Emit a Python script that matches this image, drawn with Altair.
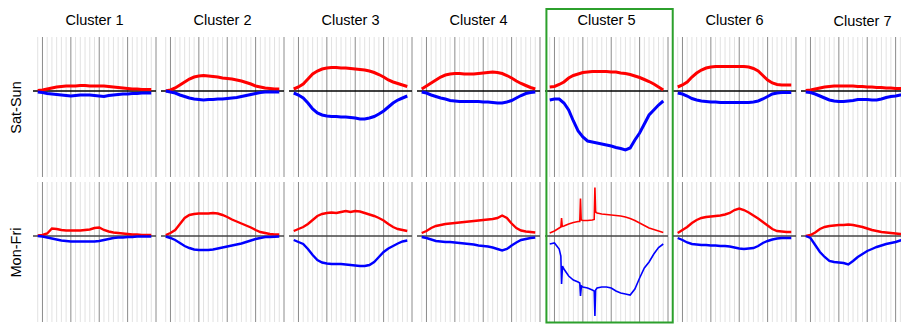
import altair as alt
import pandas as pd

FONT = "Liberation Sans"
HOURS = list(range(-1, 24))
GRID_HOURS = list(range(-1, 25))
CLUSTERS = ["Cluster 1", "Cluster 2", "Cluster 3", "Cluster 4", "Cluster 5", "Cluster 6", "Cluster 7"]
DAY_TYPES = ["Sat-Sun", "Mon-Fri"]

# ---- Sat-Sun (values at HOURS) ----
ss_red_1 = [0.5, 1, 2, 3, 4, 4.5, 5, 5, 5, 5.5, 5.5, 5, 5, 5, 5, 4.5, 4, 3.5, 3, 2.5, 2, 2, 1.5, 1.5, 1.5]
ss_blue_1 = [-1, -1.5, -2.5, -3, -3.5, -4, -4.5, -5, -4.5, -4, -4, -4, -4.5, -5, -5.5, -4.5, -4, -3.5, -3, -3, -2.5, -2.5, -2, -2, -2]
ss_red_2 = [0, 1, 3, 6, 9, 12, 14, 15, 15.5, 15, 14.5, 14, 13, 12.5, 12, 11, 10, 8.5, 7, 5, 4, 3, 2.5, 2, 2]
ss_blue_2 = [0, -1, -2, -4, -5.5, -7, -8, -8.5, -9, -8.5, -8.5, -8, -8, -7.5, -7, -6.5, -5.5, -4.5, -3.5, -2.5, -1.5, -1, -1, -1, -1]
ss_red_3 = [2, 4, 7, 12, 17, 20, 22, 23, 23.5, 23.5, 23, 23, 22.5, 22, 21.5, 21, 20, 18.5, 16.5, 14, 11, 9, 7.5, 6, 4.5]
ss_blue_3 = [-2, -4, -7, -12, -18, -22, -24, -25, -25.5, -25.5, -26, -26, -26.5, -27, -28, -28, -27, -25.5, -23, -20, -16, -12, -9, -7, -5]
ss_red_4 = [2, 5, 8, 11, 14, 16, 17, 17.5, 17.5, 17, 17, 17, 17.5, 18, 18.5, 19, 18.5, 17.5, 15.5, 13, 10, 7.5, 5.5, 3.5, 2]
ss_blue_4 = [-1, -2, -4, -5.5, -7, -8, -9.5, -10, -10.5, -10.5, -10.5, -10.5, -10.5, -11, -11, -11.5, -12, -12, -11, -9.5, -7, -4.5, -2.5, -1.5, -1]
ss_red_5 = [4, 4.5, 6.5, 9, 13, 15.5, 17, 18.5, 19, 19.5, 19.5, 19.5, 19.5, 19, 19, 18, 17.5, 16.5, 15, 13.5, 11.5, 9.5, 7, 4, 1]
ss_blue_5 = [-9, -8, -8, -12, -19, -30, -40, -46, -50, -51, -52, -53, -54, -55, -56.5, -57.5, -59, -57, -49, -42, -33, -24, -19, -14, -10]
ss_red_6 = [4, 6, 9, 14, 18, 21, 23, 24, 24.5, 24.5, 24.5, 24.5, 24.5, 24.5, 24.5, 24, 22.5, 20, 15.5, 11, 8, 6.5, 6, 6, 6]
ss_blue_6 = [-2, -3, -5, -7.5, -9, -10, -10.5, -11, -11, -11.5, -11.5, -11.5, -11.5, -11.5, -11.5, -11.5, -11, -10, -8, -5.5, -3, -2, -1.5, -1.5, -1.5]
ss_red_7 = [0.5, 1, 2, 3, 4, 4.5, 5, 5, 5, 5, 5, 4.5, 4.5, 4, 4, 3.5, 3.5, 3, 3, 2.5, 2.5, 2, 2, 2, 2]
ss_blue_7 = [-1, -1.5, -3, -5, -7, -9, -10, -10.5, -10.5, -10, -9.5, -8.5, -8.5, -8.5, -9, -9, -8, -6.5, -5.5, -5, -4, -3.5, -3, -2.5, -2]

# ---- Mon-Fri (values at HOURS) ----
mf_red_1 = [0.5, 1, 2.5, 7.5, 7, 6, 5.5, 5.5, 5.5, 5.5, 6, 6.5, 8, 8.5, 6, 4.5, 3.5, 3, 2.5, 2, 1.5, 1.5, 1, 1, 1]
mf_blue_1 = [0, -0.5, -1.5, -2.5, -3.5, -4.5, -5, -5.5, -5.5, -5.5, -5.5, -5.5, -5.5, -5, -4, -3, -2, -1.5, -1.5, -1, -1, -0.5, -0.5, -0.5, -0.5]
mf_red_2 = [1, 3, 6, 12, 18, 21, 22, 22.5, 22.5, 22.5, 23, 22.5, 21, 19, 16.5, 14.5, 12.5, 10.5, 8.5, 6, 4, 3, 2, 1.5, 1.5]
mf_blue_2 = [-0.5, -2, -4, -7, -10, -12, -13.5, -14, -14, -14, -13.5, -12.5, -11.5, -10.5, -9.5, -8.5, -7.5, -6, -4.5, -3, -2, -1, -1, -0.7, -0.5]
mf_red_3 = [5, 7, 9, 12, 16, 20, 22, 23, 23.5, 23, 24, 25, 24, 25, 24.5, 23, 21.5, 20, 18, 15.5, 12, 9, 7, 6, 5]
mf_blue_3 = [-4, -6, -8, -13, -19, -24, -26.5, -27.5, -28, -28, -28, -28.5, -29, -29.5, -30, -30, -29, -26, -21, -16, -12.5, -10, -7.5, -5.5, -4.5]
mf_red_4 = [3, 5, 8, 10, 11, 12, 12.5, 13, 13.5, 14, 14.5, 15, 15.5, 16, 16.5, 17, 18, 20.5, 18, 12.5, 8, 5.5, 4.5, 4, 3.5]
mf_blue_4 = [-1, -2, -3.5, -5, -5.5, -6, -6, -6.5, -7, -7.5, -8, -8.5, -9.5, -10, -10.5, -11.5, -13, -14.5, -13, -9.5, -6.5, -4, -3, -2, -1.5]
mf_red_5 = [3, 5, 8, 10, 12, 13.5, 14.5, 15.5, 15.5, 16, 23, 22, 21.5, 21, 20.5, 20, 19, 17.5, 15.5, 13, 10.5, 8, 6.5, 5, 3.5]
mf_blue_5 = [-8, -7, -13, -33, -40, -44, -46, -51, -52, -54, -52, -51, -51, -52, -55, -57, -58, -59, -53, -42, -32, -26, -18, -11.5, -8]
mf_red_6 = [3, 6, 9, 13, 16, 18, 19, 19.5, 20, 20.5, 21.5, 23, 26, 27.5, 26, 23.5, 20.5, 17.5, 14, 10.5, 7, 5, 4.5, 4, 4]
mf_blue_6 = [-2, -4, -6.5, -8, -8.5, -9, -9, -9.5, -9.5, -10, -10, -10.5, -11.5, -12.5, -13, -12.5, -12, -10, -7, -5, -3.5, -2.5, -2, -2, -2]
mf_red_7 = [0, 1, 3.5, 7, 9, 10, 10.5, 11, 11, 11.5, 11, 10, 9, 7.5, 6, 5, 4, 3.5, 3, 2.5, 2, 1.5, 1.5, 1, 1]
mf_blue_7 = [0, -2, -9, -16, -21, -25, -26, -26.5, -27, -28.5, -25, -21, -18, -15, -13, -11, -9.5, -8, -7, -6, -4.5, -3, -2, -1, -0.5]

# spikes of Cluster 5, Mon-Fri: (hour, value)
mf_red_5_spikes = [(1.35, 9), (1.5, 18), (1.65, 9.5), (5.35, 14.5), (5.5, 37.5), (5.65, 16),
                   (8.4, 16.5), (8.55, 48.5), (8.7, 24)]
mf_blue_5_spikes = [(1.35, -20), (1.5, -48), (1.7, -30), (5.35, -47), (5.5, -60), (5.7, -50),
                    (8.4, -55), (8.55, -80), (8.7, -54)]

SS_RED = [ss_red_1, ss_red_2, ss_red_3, ss_red_4, ss_red_5, ss_red_6, ss_red_7]
SS_BLUE = [ss_blue_1, ss_blue_2, ss_blue_3, ss_blue_4, ss_blue_5, ss_blue_6, ss_blue_7]
MF_RED = [mf_red_1, mf_red_2, mf_red_3, mf_red_4, mf_red_5, mf_red_6, mf_red_7]
MF_BLUE = [mf_blue_1, mf_blue_2, mf_blue_3, mf_blue_4, mf_blue_5, mf_blue_6, mf_blue_7]

RED = "#ff0000"
BLUE = "#0000ff"
GREEN = "#2ca02c"
Y_DOMAIN = [-86, 54]
W = 123          # panel width for the hour range -2..24
H = 140
PX_PER_HOUR = W / 26.0
W_LAST = 100     # the last panel is cut off at the right edge of the picture


def series_df(values, extra=()):
    pts = sorted(list(zip(HOURS, values)) + list(extra))
    return pd.DataFrame(pts, columns=["hour", "value"])


grid_df = pd.DataFrame({"hour": GRID_HOURS, "major": [h % 6 == 0 for h in GRID_HOURS]})


def panel(col, row):
    last = col == 6
    width = W_LAST if last else W
    x_max = -2 + width / PX_PER_HOUR
    clip = last
    xenc = alt.X("hour:Q", scale=alt.Scale(domain=[-2, x_max], nice=False, zero=False), axis=None)
    if col == 0:
        yaxis = alt.Axis(title=DAY_TYPES[row], ticks=False, labels=False, domain=False, grid=False,
                         titleFont=FONT, titleFontSize=14.5, titleFontWeight="normal",
                         titleColor="black", titlePadding=10)
    else:
        yaxis = None
    yenc = alt.Y("value:Q", scale=alt.Scale(domain=Y_DOMAIN, nice=False, zero=False), axis=yaxis)

    minor = alt.Chart(grid_df).transform_filter("!datum.major").mark_rule(
        color="#e2e2e2", strokeWidth=1, clip=clip).encode(x=xenc)
    major = alt.Chart(grid_df).transform_filter("datum.major").mark_rule(
        color="#8c8c8c", strokeWidth=1, clip=clip).encode(x=xenc)
    zero = alt.Chart(pd.DataFrame({"value": [0]})).mark_rule(
        color="black" if row == 0 else "#444444", strokeWidth=1.3 if row == 0 else 1.6).encode(y=yenc)

    if row == 0:
        red_df = series_df(SS_RED[col])
        blue_df = series_df(SS_BLUE[col])
        sw = 3
    else:
        red_extra = mf_red_5_spikes if col == 4 else ()
        blue_extra = mf_blue_5_spikes if col == 4 else ()
        red_df = series_df(MF_RED[col], red_extra)
        blue_df = series_df(MF_BLUE[col], blue_extra)
        sw = 1.6 if col == 4 else 2.4

    red = alt.Chart(red_df).mark_line(color=RED, strokeWidth=sw, clip=clip).encode(x=xenc, y=yenc)
    blue = alt.Chart(blue_df).mark_line(color=BLUE, strokeWidth=sw, clip=clip).encode(x=xenc, y=yenc)
    layers = [minor, major, zero, red, blue]

    if col == 4 and row == 1:
        # highlight frame around the whole Cluster 5 column (drawn from the lower panel)
        box_df = pd.DataFrame({"hour": [-1.7], "hour2": [25.0], "value": [227], "value2": [-86.5]})
        box = alt.Chart(box_df).mark_rect(filled=False, stroke=GREEN, strokeWidth=2).encode(
            x=xenc, x2="hour2", y=yenc, y2="value2")
        layers.append(box)

    ch = alt.layer(*layers).properties(width=width, height=H)
    if row == 0:
        ch = ch.properties(title=alt.TitleParams(CLUSTERS[col], font=FONT, fontSize=14.5,
                                                 fontWeight="normal", color="black",
                                                 anchor="middle", offset=8,
                                                 dx=(W - width) / 2))
    return ch


panels = [panel(c, r) for r in range(2) for c in range(7)]

chart = alt.concat(*panels, columns=7, spacing=5, bounds="flush").properties(
    padding=0, background="white"
).configure_view(stroke=None)

chart.save("out.html", embed_options={"renderer": "svg", "actions": False})
